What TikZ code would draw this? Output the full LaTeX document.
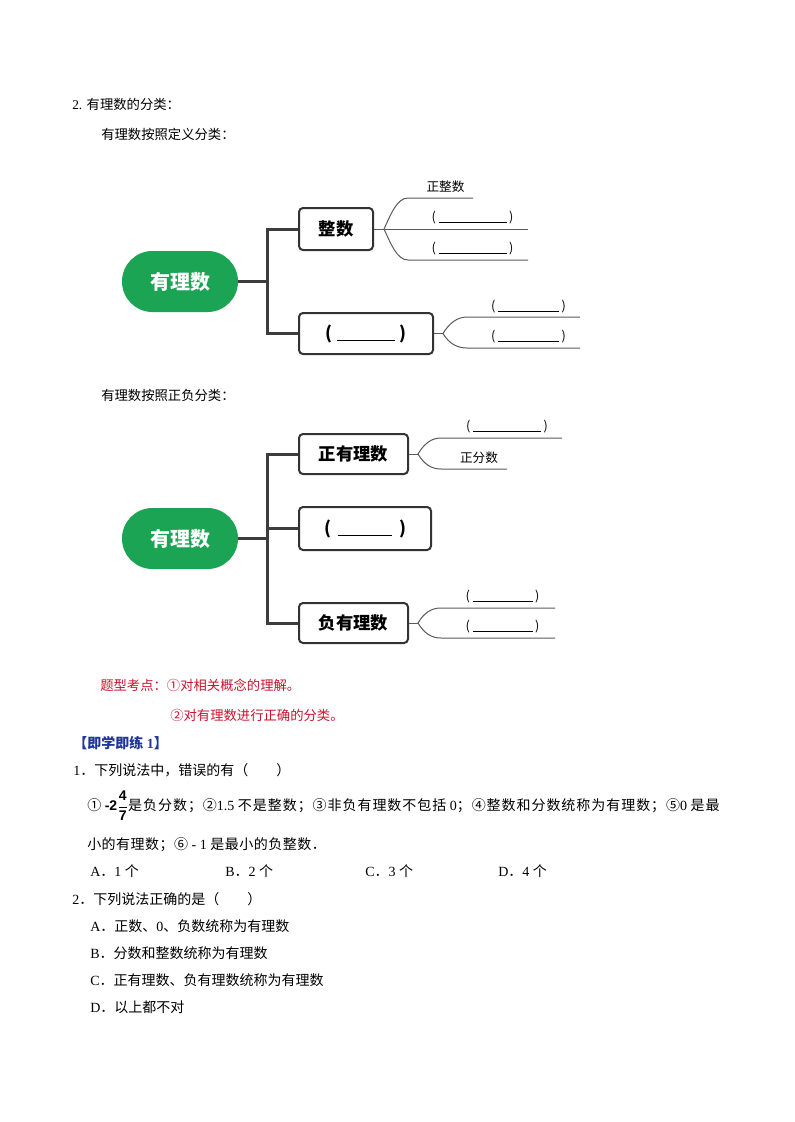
\documentclass[tikz,border=0pt]{standalone}
\usepackage{fontspec}
\setmainfont{Liberation Serif}
\newfontfamily\cjk{Noto Sans CJK SC}
\newfontfamily\cjkls{Noto Sans CJK SC}[LetterSpace=6.8]
\newfontfamily\cjklt{Noto Sans CJK SC}[LetterSpace=3.5]
\newfontfamily\lsans{Liberation Sans}
\newcommand\zh[1]{{\cjk #1}}
\newcommand\zhs[1]{{\cjkls #1}}
\newcommand\zht[1]{{\cjklt #1}}
\newcommand\blank[1]{\rule[-1.2pt]{#1}{0.7pt}}
\definecolor{pillgreen}{HTML}{1BA454}
\definecolor{boxgray}{HTML}{333333}
\definecolor{trunkgray}{HTML}{3D3D3D}
\definecolor{twiggray}{HTML}{5A5A5A}
\definecolor{redc}{HTML}{C8142D}
\definecolor{bluec}{HTML}{1F3599}
\begin{document}
\begin{tikzpicture}[x=0.75pt,y=-0.75pt,
  pill/.style={rounded corners=22.8pt, fill=pillgreen, text=white, minimum width=87pt, minimum height=45.75pt, inner sep=0pt, font=\cjk\bfseries\fontsize{15}{18}\selectfont},
  catbox/.style={draw=boxgray, line width=1.5pt, rounded corners=3pt, fill=white, inner sep=0pt, font=\cjk\bfseries\fontsize{13}{16}\selectfont},
  trunk/.style={draw=trunkgray, line width=2.25pt},
  twig/.style={draw=twiggray, line width=0.75pt},
  leaf/.style={inner sep=0pt, anchor=base, font=\cjk\fontsize{9.5}{11}\selectfont},
  body/.style={inner sep=0pt, anchor=base west, font=\fontsize{10}{12}\selectfont},
  bodyq/.style={inner sep=0pt, anchor=base west, font=\fontsize{10.5}{12.6}\selectfont}]
\useasboundingbox (0,0) rectangle (794,1122);

% headings
\node[body] (title) at (72,109) {2. \zh{有理数的分类：}};
\node[body] (sub1) at (101,139) {\zh{有理数按照定义分类：}};

% ---------- diagram 1 ----------
\node[pill] (p1) at (180,281.5) {有理数};
\node[catbox, minimum width=55.5pt, minimum height=31.5pt] (d1a) at (336,229) {整数};
\node[catbox, minimum width=100.5pt, minimum height=30.75pt] (d1b) at (366,333.5) {(\kern3pt\blank{44pt}\kern3pt)};
\coordinate (j1) at (267,281.5);
\draw[trunk] (p1.east) -- (j1);
\draw[trunk] (d1a.west) -| (j1);
\draw[trunk] (d1b.west) -| (j1);

\coordinate (b1) at (384,229);
\coordinate (k1t) at (408,198); \coordinate (e1t) at (473,198);
\coordinate (e1m) at (528,229);
\coordinate (k1b) at (408,260); \coordinate (e1b) at (528,260);
\draw[twig] (d1a.east) -- (b1);
\draw[twig] (b1) .. controls +(7,-15) and +(-11,0) .. (k1t) -- (e1t);
\draw[twig] (b1) -- (e1m);
\draw[twig] (b1) .. controls +(7,15) and +(-11,0) .. (k1b) -- (e1b);
\node[leaf] (t1) at (445.5,191.8) {正整数};
\node[leaf] (t2) at (472.5,221.6) {(\kern2pt\blank{51pt}\kern2pt)};
\node[leaf] (t3) at (472.5,252.6) {(\kern2pt\blank{51pt}\kern2pt)};

\coordinate (b2) at (443,333.5);
\coordinate (k2t) at (467,317); \coordinate (e2t) at (580,317);
\coordinate (k2b) at (467,348); \coordinate (e2b) at (580,348);
\draw[twig] (d1b.east) -- (b2);
\draw[twig] (b2) .. controls +(6,-10) and +(-10,0) .. (k2t) -- (e2t);
\draw[twig] (b2) .. controls +(6,10) and +(-10,0) .. (k2b) -- (e2b);
\node[leaf] (t4) at (528.5,310.6) {(\kern2pt\blank{45.5pt}\kern2pt)};
\node[leaf] (t5) at (528.5,340.6) {(\kern2pt\blank{45.5pt}\kern2pt)};

% ---------- diagram 2 ----------
\node[body] (sub2) at (101,400) {\zh{有理数按照正负分类：}};
\node[pill] (p2) at (180,538.5) {有理数};
\node[catbox, minimum width=81.75pt, minimum height=30pt] (d2a) at (353.5,454) {正有理数};
\node[catbox, minimum width=99pt, minimum height=32.25pt] (d2b) at (365,528.5) {(\kern5pt\blank{41pt}\kern5pt)};
\node[catbox, minimum width=81.75pt, minimum height=30pt] (d2c) at (353.5,623) {负有理数};
\coordinate (j2) at (267,538.5);
\draw[trunk] (p2.east) -- (j2);
\draw[trunk] (d2a.west) -| (j2);
\draw[trunk] (d2b.west) -| (j2);
\draw[trunk] (d2c.west) -| (j2);

\coordinate (b3) at (418,454);
\coordinate (k3t) at (441,438); \coordinate (e3t) at (562,438);
\coordinate (k3b) at (441,469); \coordinate (e3b) at (507,469);
\draw[twig] (d2a.east) -- (b3);
\draw[twig] (b3) .. controls +(6,-10) and +(-10,0) .. (k3t) -- (e3t);
\draw[twig] (b3) .. controls +(6,10) and +(-10,0) .. (k3b) -- (e3b);
\node[leaf] (t6) at (507,430.6) {(\kern2pt\blank{51pt}\kern2pt)};
\node[leaf] (t7) at (479,462.8) {正分数};

\coordinate (b4) at (418,623);
\coordinate (k4t) at (441,608); \coordinate (e4t) at (555,608);
\coordinate (k4b) at (441,638); \coordinate (e4b) at (555,638);
\draw[twig] (d2c.east) -- (b4);
\draw[twig] (b4) .. controls +(6,-10) and +(-10,0) .. (k4t) -- (e4t);
\draw[twig] (b4) .. controls +(6,10) and +(-10,0) .. (k4b) -- (e4b);
\node[leaf] (t8) at (502.5,600.6) {(\kern2pt\blank{45pt}\kern2pt)};
\node[leaf] (t9) at (502.5,630.6) {(\kern2pt\blank{45pt}\kern2pt)};

% ---------- text ----------
\node[body, text=redc] (r1) at (100,690) {\zh{题型考点：①对相关概念的理解。}};
\node[body, text=redc] (r2) at (170,720) {\zh{②对有理数进行正确的分类。}};
\node[bodyq, text=bluec] (h1) at (73,748) {\bfseries\zh{【即学即练} 1\zh{】}};
\node[bodyq] (q1) at (73,775) {1\zh{．下列说法中，错误的有（　　）}};
\node[bodyq] (q1a) at (87,810.5) {\zhs{①} {\lsans\bfseries -2}$\displaystyle\frac{\mbox{\lsans\bfseries 4}}{\mbox{\lsans\bfseries 7}}$\zhs{是负分数；②}1.5 \zhs{不是整数；③非负有理数不包括} 0\zhs{；④整数和分数统称为有理数；⑤}0 \zhs{是最}};
\node[bodyq] (q1b) at (87,849) {\zht{小的有理数；⑥} - 1 \zht{是最小的负整数．}};
\node[bodyq] (o1a) at (90,876) {A\zh{．}1 \zh{个}};
\node[bodyq] (o1b) at (225,876) {B\zh{．}2 \zh{个}};
\node[bodyq] (o1c) at (365,876) {C\zh{．}3 \zh{个}};
\node[bodyq] (o1d) at (498,876) {D\zh{．}4 \zh{个}};
\node[bodyq] (q2) at (72,904.5) {2\zh{．下列说法正确的是（　　）}};
\node[bodyq] (o2a) at (90,931.5) {A\zh{．正数、}0\zh{、负数统称为有理数}};
\node[bodyq] (o2b) at (90,958) {B\zh{．分数和整数统称为有理数}};
\node[bodyq] (o2c) at (90,985) {C\zh{．正有理数、负有理数统称为有理数}};
\node[bodyq] (o2d) at (90,1012) {D\zh{．以上都不对}};
\end{tikzpicture}
\end{document}
